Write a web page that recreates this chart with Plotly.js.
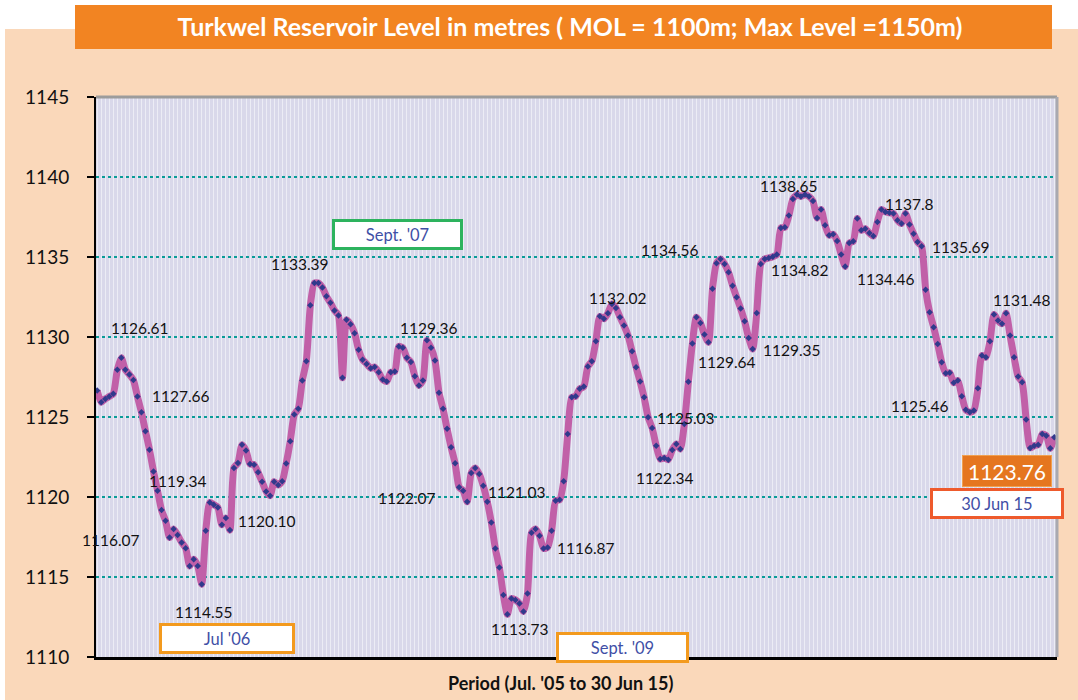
<!DOCTYPE html>
<html>
<head>
<meta charset="utf-8">
<script src="https://cdn.plot.ly/plotly-3.0.1.min.js"></script>
<style>html,body{margin:0;padding:0;background:#fff;}#chart{width:1078px;height:700px;}</style>
</head>
<body>
<div id="chart"></div>
<script>
// Semi-monthly reservoir level readings, Jul 2005 - 30 Jun 2015 (metres)
const levels = [
1126.65,1125.92,1126.13,1126.28,1126.45,1127.95,1128.70,1127.95,1127.65,1127.32,
1126.28,1125.30,1124.11,1122.96,1121.60,1120.39,1119.18,1118.51,1117.47,1118.00,
1117.62,1117.16,1116.80,1115.69,1116.11,1115.69,1114.55,1117.89,1119.66,1119.52,
1119.35,1118.26,1118.68,1117.93,1121.82,1122.13,1123.26,1122.90,1122.07,1122.02,
1121.54,1120.96,1120.35,1120.08,1120.96,1120.75,1120.98,1122.10,1123.48,1125.15,
1125.51,1127.28,1128.49,1131.98,1133.37,1133.37,1133.10,1132.54,1132.14,1131.66,
1131.35,1127.45,1131.08,1130.79,1130.24,1129.20,1128.58,1128.32,1128.05,1128.12,
1127.80,1127.34,1127.22,1127.80,1127.84,1129.41,1129.33,1128.70,1128.43,1127.55,
1126.97,1127.28,1129.79,1129.33,1128.53,1126.51,1125.51,1124.26,1123.11,1122.11,
1120.61,1120.39,1119.70,1121.50,1121.82,1121.44,1120.70,1119.70,1118.41,1116.78,
1115.60,1113.88,1112.67,1113.65,1113.57,1113.34,1112.84,1113.97,1117.77,1118.00,
1117.58,1116.78,1116.85,1117.89,1119.77,1119.83,1120.98,1123.94,1126.23,1126.30,
1126.76,1126.90,1128.15,1128.49,1129.74,1131.29,1131.14,1131.49,1132.07,1131.82,
1131.24,1130.72,1130.09,1129.11,1128.11,1127.22,1126.23,1124.98,1124.31,1123.21,
1122.37,1122.44,1122.33,1122.94,1123.31,1123.00,1124.56,1127.20,1129.60,1131.24,
1130.88,1130.15,1129.67,1133.01,1134.61,1134.88,1134.57,1134.05,1133.21,1132.48,
1131.78,1130.98,1129.94,1129.25,1131.50,1134.57,1134.88,1134.94,1135.02,1135.15,
1136.82,1136.86,1137.59,1138.63,1138.90,1138.78,1138.90,1138.78,1138.50,1137.44,
1137.97,1136.99,1136.36,1136.42,1136.00,1135.15,1134.41,1135.87,1135.98,1137.40,
1136.67,1136.77,1136.50,1136.31,1137.19,1137.97,1137.82,1137.76,1137.72,1137.30,
1137.09,1137.72,1137.03,1136.46,1135.94,1135.67,1132.96,1131.55,1130.61,1129.57,
1128.42,1127.73,1127.76,1127.14,1127.28,1126.30,1125.45,1125.30,1125.41,1126.80,
1128.84,1128.74,1129.74,1131.41,1131.03,1130.83,1131.49,1130.09,1128.74,1127.53,
1127.17,1124.84,1123.07,1123.21,1123.27,1123.94,1123.83,1123.04,1123.73
];
const yTicks = [1110, 1115, 1120, 1125, 1130, 1135, 1140, 1145];
const pointLabels = ['1126.61','1127.66','1119.34','1116.07','1114.55','1120.10','1133.39','1129.36',
  '1122.07','1121.03','1113.73','1116.87','1132.02','1134.56','1125.03','1122.34','1129.64',
  '1129.35','1138.65','1134.82','1137.8','1135.69','1134.46','1131.48','1125.46'];
const periodLabels = ["Jul '06", "Sept. '07", "Sept. '09", "30 Jun 15"];
const latestLevel = '1123.76';
const chartTitle = 'Turkwel Reservoir Level in metres ( MOL = 1100m; Max Level =1150m)';
const xTitle = "Period (Jul. '05 to 30 Jun 15)";

// ---- layout geometry (pixels) ----
const W = 1078, H = 700, ML = 96, MR = 21, MT = 97, MB = 43;
const PW = W - ML - MR, PH = H - MT - MB;
const px = x => (x - ML) / PW;
const py = y => (H - MB - y) / PH;

const idx = levels.map((_, i) => i);
const FONT = 'Lato, "Open Sans", sans-serif';

const trace = {
  x: idx, y: levels, type: 'scatter', mode: 'lines+markers',
  line: {color: '#C160A8', width: 7, shape: 'spline', smoothing: 0.6},
  marker: {color: '#313A8C', size: 5, symbol: 'diamond'},
  hoverinfo: 'y', cliponaxis: false
};

// label positions (pixel centres)
const labelPos = [[140,328],[181,396],[178,481],[111,540],[204,612],[267,521],[300,264],[429,328],
  [407,498],[517,492],[520,629],[586,548],[618,298],[670,250],[686,418],[665,478],[727,362],
  [792,350],[789,186],[800,270],[909,204],[961,247],[886,279],[1022,300],[920,406]];

const annotations = pointLabels.map((t, i) => ({
  xref: 'paper', yref: 'paper', x: px(labelPos[i][0]), y: py(labelPos[i][1]),
  xanchor: 'center', yanchor: 'middle', showarrow: false, text: t,
  font: {family: FONT, size: 15.5, color: '#111'}
}));

const boxes = [
  {c: [227, 638], w: 128, border: '#F39A1E'},
  {c: [397, 234], w: 123, border: '#2DB35E'},
  {c: [622, 647], w: 125, border: '#F39A1E'},
  {c: [997, 503], w: 126, border: '#EE5A2C'}
];
boxes.forEach((b, i) => annotations.push({
  xref: 'paper', yref: 'paper', x: px(b.c[0]), y: py(b.c[1]), xanchor: 'center', yanchor: 'middle',
  showarrow: false, text: periodLabels[i], width: b.w, height: 23, bgcolor: '#FFFFFF',
  bordercolor: b.border, borderwidth: 3, borderpad: 1,
  font: {family: FONT, size: 16.5, color: '#3F4FA6'}
}));

annotations.push({
  xref: 'paper', yref: 'paper', x: px(1007), y: py(471), xanchor: 'center', yanchor: 'middle',
  showarrow: false, text: latestLevel, width: 84, height: 26, bgcolor: '#E5761F',
  bordercolor: '#F0A050', borderwidth: 1, borderpad: 2,
  font: {family: FONT, size: 21, color: '#FFFFFF'}
});

annotations.push({
  xref: 'paper', yref: 'paper', x: px(560), y: py(683), xanchor: 'center', yanchor: 'middle',
  showarrow: false, text: '<b>' + xTitle + '</b>',
  font: {family: FONT, size: 18, color: '#111'}
});

const shapes = [
  {type: 'rect', xref: 'paper', yref: 'paper', x0: px(0), x1: px(W), y0: py(29), y1: py(0),
   fillcolor: '#FFFFFF', line: {width: 0}, layer: 'below'},
  {type: 'rect', xref: 'paper', yref: 'paper', x0: px(0), x1: px(5), y0: py(H), y1: py(0),
   fillcolor: '#FFFFFF', line: {width: 0}, layer: 'below'},
  {type: 'rect', xref: 'paper', yref: 'paper', x0: px(75), x1: px(1052), y0: py(49), y1: py(5),
   fillcolor: '#F28422', line: {width: 0}, layer: 'below'},
  {type: 'line', xref: 'paper', yref: 'paper', x0: 0, x1: 1, y0: 1, y1: 1,
   line: {color: '#9C9C9C', width: 3}},
  {type: 'line', xref: 'paper', yref: 'paper', x0: 1, x1: 1, y0: 0, y1: 1,
   line: {color: '#A9A9B0', width: 3}}
];

const layout = {
  width: W, height: H,
  margin: {l: ML, r: MR, t: MT, b: MB, pad: 0},
  paper_bgcolor: '#FAD8BA',
  plot_bgcolor: '#D9D8EA',
  showlegend: false,
  title: {
    text: '<b>' + chartTitle + '</b>', x: 570 / W, xanchor: 'center', xref: 'container',
    y: 1 - 27 / H, yanchor: 'middle', yref: 'container',
    font: {family: FONT, size: 25, color: '#FFFFFF'}
  },
  xaxis: {
    range: [-0.3, levels.length - 0.33], showticklabels: false, ticks: '',
    showgrid: true, dtick: 1, gridcolor: 'rgba(255,255,255,0.5)', gridwidth: 1,
    zeroline: false, showline: true, linecolor: '#000', linewidth: 3, fixedrange: true
  },
  yaxis: {
    range: [1110, 1145], tickvals: yTicks, ticktext: yTicks.map(String),
    ticks: 'outside', ticklen: 7, tickwidth: 2, tickcolor: '#000', ticklabelstandoff: 14,
    tickfont: {family: FONT, size: 19, color: '#111'},
    showgrid: true, gridcolor: '#0A9C98', gridwidth: 2, griddash: 'dot',
    zeroline: false, showline: true, linecolor: '#000', linewidth: 2, fixedrange: true
  },
  annotations: annotations,
  shapes: shapes
};

Plotly.newPlot('chart', [trace], layout, {displayModeBar: false, staticPlot: true});
</script>
</body>
</html>
